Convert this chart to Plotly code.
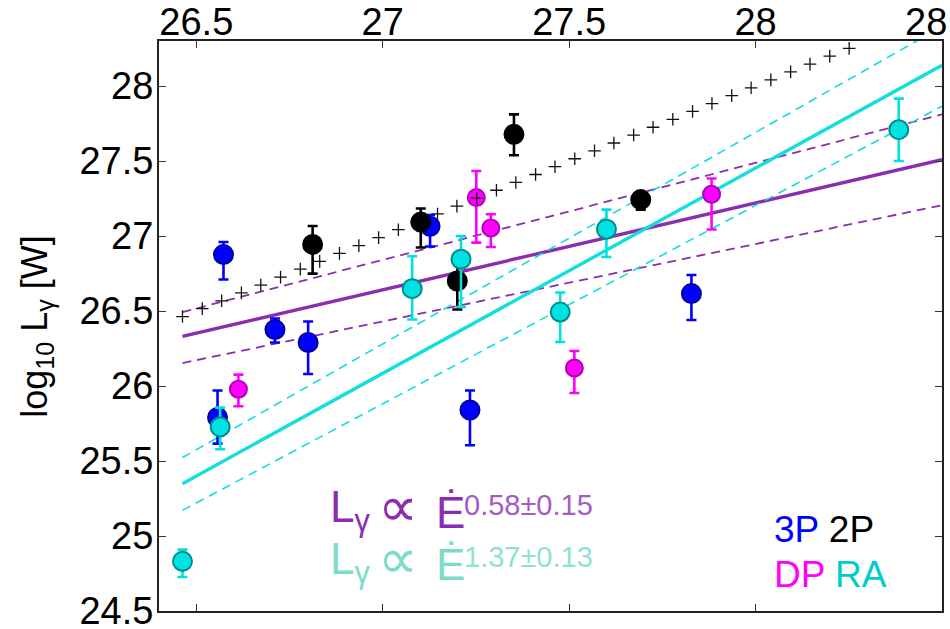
import plotly.graph_objects as go

# ---------------- data ----------------
# log10 Edot [W] (x) vs log10 L_gamma [W] (y), with asymmetric errors
p3_x = [26.573, 27.127, 26.711, 26.800, 26.557, 27.234, 27.828]
p3_y = [26.876, 27.065, 26.376, 26.290, 25.790, 25.840, 26.616]
p3_up = [0.084, 0.075, 0.074, 0.140, 0.180, 0.130, 0.124]
p3_dn = [0.166, 0.135, 0.086, 0.210, 0.174, 0.235, 0.176]

p2_x = [26.812, 27.102, 27.352, 27.200, 27.692]
p2_y = [26.944, 27.093, 27.678, 26.700, 27.243]
p2_up = [0.123, 0.090, 0.133, 0.150, 0.050]
p2_dn = [0.195, 0.170, 0.140, 0.190, 0.067]

dp_x = [27.251, 27.290, 26.613, 27.514, 27.882]
dp_y = [27.256, 27.053, 25.978, 26.120, 27.278]
dp_up = [0.177, 0.092, 0.098, 0.113, 0.105]
dp_dn = [0.300, 0.126, 0.113, 0.167, 0.235]

ra_x = [26.463, 26.564, 27.079, 27.210, 27.476, 27.600, 28.384]
ra_y = [24.831, 25.727, 26.649, 26.845, 26.493, 27.045, 27.709]
ra_up = [0.078, 0.129, 0.216, 0.155, 0.130, 0.131, 0.207]
ra_dn = [0.104, 0.149, 0.206, 0.318, 0.200, 0.185, 0.209]

# L_gamma = Edot (100% efficiency) sample points
unity_e = [26.463, 26.516, 26.568, 26.621, 26.673, 26.726, 26.779, 26.831,
           26.884, 26.936, 26.989, 27.042, 27.094, 27.147, 27.199, 27.252,
           27.305, 27.357, 27.410, 27.462, 27.515, 27.568, 27.620, 27.673,
           27.725, 27.778, 27.831, 27.883, 27.936, 27.988, 28.041, 28.094,
           28.146, 28.199, 28.251]

# fitted power laws (end points) and their confidence bounds
fit_x = [26.463, 28.5]
fit_all = [26.331, 27.509]
fit_all_hi = [26.493, 27.811]
fit_all_lo = [26.153, 27.205]
fit_ra = [25.349, 28.138]
fit_ra_hi = [25.523, 28.396]
fit_ra_lo = [25.171, 27.865]

fit_labels = ["0.58±0.15", "1.37±0.13"]

x_ticks = [26.5, 27.0, 27.5, 28.0, 28.5]
x_ticklabels = ["26.5", "27", "27.5", "28", "28.5"]
y_ticks = [24.5, 25.0, 25.5, 26.0, 26.5, 27.0, 27.5, 28.0]
y_ticklabels = ["24.5", "25", "25.5", "26", "26.5", "27", "27.5", "28"]

# ---------------- styling ----------------
FONT = "Liberation Sans, Arial, Helvetica, sans-serif"
PURPLE = "#8B2DB0"
CYAN = "#12DEDE"

fig = go.Figure()


def add_line(y, color, width, dash="solid"):
    fig.add_trace(go.Scatter(x=fit_x, y=y, mode="lines",
                             line=dict(color=color, width=width, dash=dash),
                             hoverinfo="skip", showlegend=False))


add_line(fit_all_hi, PURPLE, 1.8, "9px,6px")
add_line(fit_all_lo, PURPLE, 1.8, "9px,6px")
add_line(fit_all, PURPLE, 3.4)
add_line(fit_ra_hi, CYAN, 1.6, "9px,6px")
add_line(fit_ra_lo, CYAN, 1.6, "9px,6px")
add_line(fit_ra, CYAN, 3.4)


def add_points(x, y, up, dn, fill, edge, bar, size):
    fig.add_trace(go.Scatter(
        x=x, y=y, mode="markers",
        marker=dict(size=size, color=fill, line=dict(color=edge, width=2)),
        error_y=dict(type="data", symmetric=False, array=up, arrayminus=dn,
                     color=bar, thickness=2.6, width=5),
        showlegend=False))


add_points(dp_x, dp_y, dp_up, dp_dn, "#FF00FF", "#B000B8", "#FF00FF", 17)

fig.add_trace(go.Scatter(
    x=unity_e, y=unity_e, mode="markers",
    marker=dict(symbol="cross-thin", size=9, line=dict(color="#111", width=1.3)),
    hoverinfo="skip", showlegend=False))

add_points(p3_x, p3_y, p3_up, p3_dn, "#0000FF", "#0000A0", "#0000FF", 19)
add_points(p2_x, p2_y, p2_up, p2_dn, "#000000", "#000000", "#000000", 19)
add_points(ra_x, ra_y, ra_up, ra_dn, "#00E2E2", "#008C8C", "#00E0E0", 19)

# ---------------- text ----------------
annotations = []


def label(text, x, y, size, color, xanchor="left", **kw):
    annotations.append(dict(text=text, x=x, y=y, xref="x", yref="y",
                            xanchor=xanchor, yanchor="middle", showarrow=False,
                            font=dict(family=FONT, size=size, color=color), **kw))


# power-law relations: L_gamma ∝ Edot^index
for row, (main_c, exp_c, exp_txt) in enumerate(
        [(PURPLE, "#A45CC4", fit_labels[0]), ("#7DDCC8", "#8FE2D2", fit_labels[1])]):
    dy = -0.345 * row
    label("L<sub>γ</sub>", 26.852, 25.175 + dy, 44, main_c)
    label("∝", 27.041, 25.195 + dy, 56, main_c, xanchor="center")
    label("Ė", 27.137, 25.155 + dy, 44, main_c)
    label(exp_txt, 27.212, 25.207 + dy, 29, exp_c)

# class key
label("<span style='color:#0000FF'>3P</span> 2P", 28.044, 25.045, 37, "#000000")
label("<span style='color:#FF00FF'>DP</span> <span style='color:#00CCCC'>RA</span>",
      28.044, 24.745, 37, "#000000")

annotations.append(dict(text="log<sub>10</sub> L<sub>γ</sub> [W]", textangle=-90,
                        x=-0.156, y=0.5, xref="paper", yref="paper",
                        xanchor="center", yanchor="middle", showarrow=False,
                        font=dict(family=FONT, size=36, color="#000000")))

axis_common = dict(
    showgrid=False, zeroline=False, showline=True, linecolor="#222", linewidth=2,
    mirror="ticks", ticks="inside", ticklen=7, tickwidth=1, tickcolor="#333",
    tickfont=dict(family=FONT, size=38, color="#000000"),
    ticklabeloverflow="allow",
)

fig.update_layout(
    width=950, height=629,
    margin=dict(l=159, r=8, t=41, b=18),
    paper_bgcolor="white", plot_bgcolor="white",
    xaxis=dict(range=[26.4, 28.5], side="top", tickvals=x_ticks,
               ticktext=x_ticklabels, automargin=False, ticklabelstandoff=-11,
               **axis_common),
    yaxis=dict(range=[24.5, 28.3], tickvals=y_ticks, ticktext=y_ticklabels,
               automargin=False, ticklabelstandoff=-4, **axis_common),
    annotations=annotations,
    font=dict(family=FONT),
)

fig.write_html("out.html")
